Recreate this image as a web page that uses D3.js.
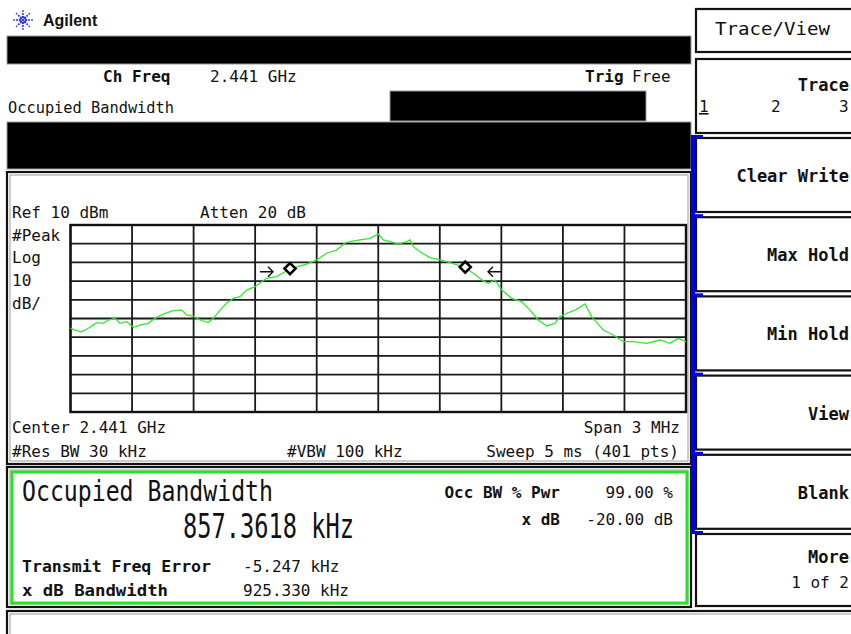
<!DOCTYPE html>
<html>
<head>
<meta charset="utf-8">
<title>Occupied Bandwidth</title>
<style>
    body { margin: 0; background: #fff; }
    svg { display: block; }
    text { font-family: "DejaVu Sans Mono", monospace; font-size: 16px; fill: #111; }
    .b { font-weight: bold; }
    .grid line { stroke: #1a1a1a; stroke-width: 1.8px; }
    .trace { fill: none; stroke: #2ee82e; stroke-width: 1.3px; }
    .key text.lbl { font-weight: bold; font-size: 17px; text-anchor: end; }
</style>
</head>
<body>
<svg width="851" height="634"></svg>
<script src="https://d3js.org/d3.v7.min.js"></script>
<script>
// frequency offset from centre (MHz) and level (dBm)
const traceFreq = [-1.50, -1.478, -1.445, -1.413, -1.372, -1.340, -1.316, -1.283, -1.259, -1.226,
    -1.194, -1.161, -1.121, -1.088, -1.048, -0.999, -0.958, -0.934, -0.901, -0.869,
    -0.828, -0.804, -0.771, -0.739, -0.706, -0.674, -0.641, -0.601, -0.568, -0.544,
    -0.495, -0.463, -0.430, -0.381, -0.349, -0.300, -0.251, -0.203, -0.162, -0.138,
    -0.089, -0.040, 0.000, 0.025, 0.057, 0.098, 0.139, 0.155, 0.171, 0.203,
    0.252, 0.301, 0.350, 0.418, 0.463, 0.512, 0.536, 0.569, 0.602, 0.650,
    0.699, 0.740, 0.780, 0.821, 0.861, 0.886, 0.919, 0.959, 1.008, 1.040,
    1.097, 1.146, 1.194, 1.243, 1.308, 1.373, 1.422, 1.462, 1.500];
const traceDbm = [-45.2, -46.2, -47.1, -45.2, -42.2, -42.6, -40.8, -39.9, -42.6, -41.7,
    -44.7, -43.5, -42.6, -39.9, -37.6, -35.8, -35.5, -38.1, -38.7, -40.8,
    -42.2, -39.9, -35.5, -31.9, -29.2, -28.3, -24.8, -23.0, -20.3, -18.5,
    -17.6, -15.5, -13.4, -11.9, -10.9, -8.7, -5.1, -3.4, 0.4, 1.1,
    2.0, 2.9, 5.2, 2.0, 1.1, -0.2, 1.1, 2.0, -1.6, -4.3,
    -7.4, -8.7, -10.1, -12.5, -15.8, -19.9, -21.2, -19.4, -24.8, -29.2,
    -31.0, -35.5, -40.8, -44.0, -42.6, -39.0, -37.2, -35.5, -32.2, -39.0,
    -46.2, -48.8, -52.4, -52.4, -53.3, -51.5, -53.3, -50.6, -52.4];

const xGrid = [-1.5, -1.2, -0.9, -0.6, -0.3, 0, 0.3, 0.6, 0.9, 1.2, 1.5];
const yGrid = [10, 0, -10, -20, -30, -40, -50, -60, -70, -80, -90];

// occupied bandwidth markers and x dB bandwidth arrows
const obwFreq = [-0.430, 0.424];
const obwDbm = [-13.3, -12.5];
const xdbFreq = [-0.513, 0.535];
const xdbDbm = [-15, -15];
const xdbDir = [1, -1];

const softKeys = ["Clear Write", "Max Hold", "Min Hold", "View", "Blank"];

const svg = d3.select("svg");
svg.append("rect").attr("width", 851).attr("height", 634).attr("fill", "#fff");

function box(x0, y0, x1, y1) {
    svg.append("rect").attr("x", x0).attr("y", y0).attr("width", x1 - x0).attr("height", y1 - y0)
        .attr("fill", "none").attr("stroke", "#111").attr("stroke-width", 2.2);
    svg.append("rect").attr("x", x0 + 3).attr("y", y0 + 3).attr("width", x1 - x0 - 6).attr("height", y1 - y0 - 6)
        .attr("fill", "none").attr("stroke", "#9a9a9a").attr("stroke-width", 1);
}
function txt(s, x, y, opts) {
    opts = opts || {};
    const t = svg.append("text").attr("x", x).attr("y", y).text(s);
    if (opts.bold) t.attr("font-weight", "bold");
    if (opts.end) t.attr("text-anchor", "end");
    if (opts.size) t.style("font-size", opts.size + "px");
    if (opts.len) t.attr("textLength", opts.len).attr("lengthAdjust", "spacingAndGlyphs");
    return t;
}

// logo
const logo = svg.append("g").attr("transform", "translate(23,20)");
d3.range(8).forEach(i => {
    const a = i * Math.PI / 4;
    [[3, 1.3], [6, 1.1], [9, 0.9]].forEach(([r, s]) => {
        logo.append("circle").attr("cx", r * Math.cos(a)).attr("cy", r * Math.sin(a)).attr("r", s).attr("fill", "#3a3ae0");
    });
});
logo.append("circle").attr("r", 1.5).attr("fill", "#3a3ae0");
svg.append("text").attr("x", 43).attr("y", 26).text("Agilent")
    .style("font-family", "'Liberation Sans', Arial, sans-serif").style("font-weight", "bold").style("font-size", "16px");

// header blocks
svg.append("rect").attr("x", 7).attr("y", 36).attr("width", 684).attr("height", 28).attr("fill", "#000").attr("stroke", "#999");
txt("Ch Freq", 103, 82, {bold: true});
txt("2.441 GHz", 210, 82);
txt("Trig", 585, 82, {bold: true});
txt("Free", 632, 82);
txt("Occupied Bandwidth", 8, 113, {len: 166});
svg.append("rect").attr("x", 390).attr("y", 91).attr("width", 256).attr("height", 30).attr("fill", "#000").attr("stroke", "#999");
svg.append("rect").attr("x", 7).attr("y", 122).attr("width", 684).attr("height", 47).attr("fill", "#000").attr("stroke", "#999");

// graph panel
box(7, 172, 691, 464);
txt("Ref 10 dBm", 12, 218);
txt("Atten 20 dB", 200, 218);
txt("#Peak", 12, 241);
txt("Log", 12, 263);
txt("10", 12, 286);
txt("dB/", 12, 309);
txt("Center 2.441 GHz", 12, 433);
txt("Span 3 MHz", 680, 433, {end: true});
txt("#Res BW 30 kHz", 12, 457);
txt("#VBW 100 kHz", 287, 457);
txt("Sweep 5 ms (401 pts)", 679, 457, {end: true});

const x = d3.scaleLinear().domain([-1.5, 1.5]).range([70.5, 686]);
const y = d3.scaleLinear().domain([-90, 10]).range([412, 225]);

const grid = svg.append("g").attr("class", "grid");
grid.selectAll(".v").data(xGrid).join("line")
    .attr("x1", d => x(d)).attr("x2", d => x(d)).attr("y1", y(10)).attr("y2", y(-90));
grid.selectAll(".h").data(yGrid).join("line")
    .attr("x1", x(-1.5)).attr("x2", x(1.5)).attr("y1", d => y(d)).attr("y2", d => y(d));
grid.append("rect").attr("x", x(-1.5)).attr("y", y(10)).attr("width", x(1.5) - x(-1.5)).attr("height", y(-90) - y(10))
    .attr("fill", "none").attr("stroke", "#111").attr("stroke-width", 2.4);

const line = d3.line().x((d, i) => x(traceFreq[i])).y(d => y(d));
svg.append("path").attr("class", "trace").attr("d", line(traceDbm));

// markers
obwFreq.forEach((f, i) => {
    const cx = x(f), cy = y(obwDbm[i]), r = 5.5;
    svg.append("path").attr("d", `M${cx},${cy - r}L${cx + r},${cy}L${cx},${cy + r}L${cx - r},${cy}Z`)
        .attr("fill", "#fff").attr("stroke", "#000").attr("stroke-width", 2.6);
});
xdbFreq.forEach((f, i) => {
    const tx = x(f), ty = y(xdbDbm[i]), d = xdbDir[i];
    svg.append("path")
        .attr("d", `M${tx - d * 13},${ty}L${tx},${ty}M${tx - d * 5},${ty - 5}L${tx},${ty}L${tx - d * 5},${ty + 5}`)
        .attr("fill", "none").attr("stroke", "#111").attr("stroke-width", 1.4);
});

// result panel
box(7, 467, 691, 607);
svg.append("rect").attr("x", 12).attr("y", 472).attr("width", 675).attr("height", 131)
    .attr("fill", "none").attr("stroke", "#22e622").attr("stroke-width", 3);
txt("Occupied Bandwidth", 22, 501, {size: 28, len: 251});
txt("857.3618 kHz", 183, 538, {size: 33, len: 171});
txt("Transmit Freq Error", 22, 572, {bold: true, len: 189});
txt("x dB Bandwidth", 22, 596, {bold: true, len: 146});
txt("-5.247 kHz", 243, 572);
txt("925.330 kHz", 243, 596);
txt("Occ BW % Pwr", 560, 498, {bold: true, end: true});
txt("99.00 %", 673, 498, {end: true});
txt("x dB", 560, 525, {bold: true, end: true});
txt("-20.00 dB", 673, 525, {end: true});

// bottom status panel
box(7, 611, 870, 660);

// soft keys
svg.append("rect").attr("x", 696).attr("y", 9).attr("width", 180).attr("height", 43)
    .attr("fill", "none").attr("stroke", "#111").attr("stroke-width", 2.2);
txt("Trace/View", 715, 35, {size: 18, len: 115});
svg.append("rect").attr("x", 696).attr("y", 59).attr("width", 180).attr("height", 74)
    .attr("fill", "none").attr("stroke", "#111").attr("stroke-width", 2.2);
txt("Trace", 849, 91, {bold: true, end: true, size: 17});
txt("1", 699, 112).attr("text-decoration", "underline");
txt("2", 771, 112);
txt("3", 839, 112);

const keyTop = d3.scaleLinear().domain([0, 1]).range([138, 217.2]);
const keys = svg.append("g").attr("class", "key");
softKeys.forEach((k, i) => {
    const t = keyTop(i);
    keys.append("rect").attr("x", 696).attr("y", t).attr("width", 180).attr("height", 74)
        .attr("fill", "none").attr("stroke", "#111").attr("stroke-width", 2.2);
    keys.append("text").attr("class", "lbl").attr("x", 849).attr("y", t + 44).text(k);
});
keys.append("rect").attr("x", 696).attr("y", 534).attr("width", 180).attr("height", 72)
    .attr("fill", "none").attr("stroke", "#111").attr("stroke-width", 2.2);
keys.append("text").attr("class", "lbl").attr("x", 849).attr("y", 563).text("More");
txt("1 of 2", 849, 588, {end: true});

// blue selection bar
svg.append("rect").attr("x", 691).attr("y", 135).attr("width", 4).attr("height", 396).attr("fill", "#0000ee");
d3.range(6).forEach(i => {
    svg.append("rect").attr("x", 691).attr("y", keyTop(i) - 3).attr("width", 12).attr("height", 3).attr("fill", "#0000ee");
});
</script>
</body>
</html>
